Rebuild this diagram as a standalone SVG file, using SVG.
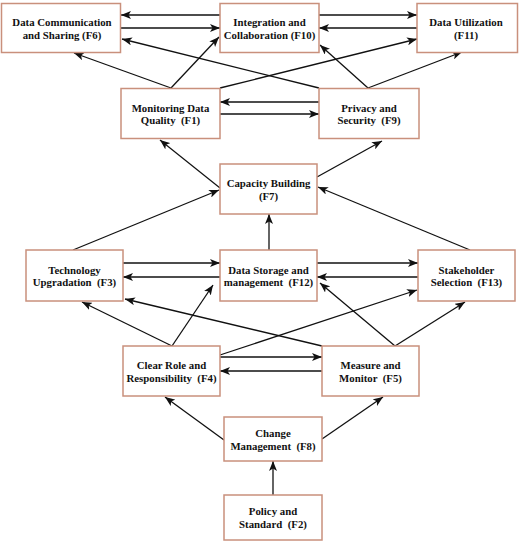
<svg xmlns="http://www.w3.org/2000/svg" width="520" height="543" viewBox="0 0 520 543">
<style>
.box{fill:#fff;stroke:#c9907c;stroke-width:1.5}
.t{font-family:"Liberation Serif","Times New Roman",serif;font-weight:bold;font-size:10.8px;fill:#111;text-anchor:middle;white-space:pre}
.c line{stroke:#111;stroke-width:1.3;marker-end:url(#ah)}
</style>
<defs>
<marker id="ah" viewBox="0 0 10 8" refX="10" refY="4" markerWidth="10" markerHeight="8" markerUnits="userSpaceOnUse" orient="auto">
<path d="M0,0 L10,4 L0,8 L2.5,4 z" fill="#111"/>
</marker>
</defs>
<rect width="520" height="543" fill="#fff"/>
<g class="c" id="connectors">
<line x1="220" y1="15" x2="121" y2="15"/>
<line x1="121" y1="28" x2="220" y2="28"/>
<line x1="319" y1="15" x2="417" y2="15"/>
<line x1="417" y1="28" x2="319" y2="28"/>
<line x1="171" y1="88" x2="74" y2="53"/>
<line x1="171" y1="88" x2="219" y2="37"/>
<line x1="220" y1="88" x2="417" y2="39"/>
<line x1="319" y1="88" x2="122" y2="39"/>
<line x1="368" y1="88" x2="320" y2="45"/>
<line x1="368" y1="88" x2="462" y2="52"/>
<line x1="319" y1="102" x2="220" y2="102"/>
<line x1="220" y1="114" x2="319" y2="114"/>
<line x1="220" y1="188" x2="160" y2="140"/>
<line x1="317" y1="177" x2="382" y2="141"/>
<line x1="73" y1="250" x2="219" y2="190"/>
<line x1="470" y1="250" x2="318" y2="187"/>
<line x1="269" y1="250" x2="269" y2="214"/>
<line x1="123" y1="263" x2="220" y2="263"/>
<line x1="220" y1="277" x2="123" y2="277"/>
<line x1="317" y1="263" x2="418" y2="263"/>
<line x1="418" y1="277" x2="317" y2="277"/>
<line x1="172" y1="346" x2="82" y2="302"/>
<line x1="172" y1="346" x2="213" y2="285"/>
<line x1="220" y1="355" x2="417" y2="290"/>
<line x1="322" y1="346" x2="125" y2="299"/>
<line x1="395" y1="346" x2="320" y2="283"/>
<line x1="395" y1="346" x2="465" y2="302"/>
<line x1="220" y1="357" x2="322" y2="357"/>
<line x1="322" y1="371" x2="220" y2="371"/>
<line x1="224" y1="440" x2="165" y2="397"/>
<line x1="322" y1="439" x2="383" y2="397"/>
<line x1="273" y1="495" x2="273" y2="461"/>
</g>
<g id="F6"><rect class="box" x="1.5" y="3.5" width="119" height="49"/><text class="t" x="62" y="26">Data Communication</text><text class="t" x="62" y="38.5">and Sharing (F6)</text></g>
<g id="F10"><rect class="box" x="220" y="3.5" width="99" height="49"/><text class="t" x="269.5" y="26">Integration and</text><text class="t" x="269.5" y="38.5">Collaboration (F10)</text></g>
<g id="F11"><rect class="box" x="417" y="3.5" width="100.5" height="49"/><text class="t" x="466" y="26">Data Utilization</text><text class="t" x="466" y="38.5">(F11)</text></g>
<g id="F1"><rect class="box" x="121" y="88.5" width="99" height="50"/><text class="t" x="170.5" y="111.5">Monitoring Data</text><text class="t" x="170.5" y="124">Quality  (F1)</text></g>
<g id="F9"><rect class="box" x="319" y="88.5" width="100" height="50"/><text class="t" x="369" y="111.5">Privacy and</text><text class="t" x="369" y="124">Security  (F9)</text></g>
<g id="F7"><rect class="box" x="220" y="164" width="97" height="50"/><text class="t" x="268.5" y="187">Capacity Building</text><text class="t" x="268.5" y="199.5">(F7)</text></g>
<g id="F3"><rect class="box" x="26" y="250" width="97" height="51"/><text class="t" x="74.5" y="273.5">Technology</text><text class="t" x="74.5" y="286">Upgradation  (F3)</text></g>
<g id="F12"><rect class="box" x="220" y="250" width="97" height="51"/><text class="t" x="268.5" y="273.5">Data Storage and</text><text class="t" x="268.5" y="286">management  (F12)</text></g>
<g id="F13"><rect class="box" x="418" y="250" width="97" height="51"/><text class="t" x="466.5" y="273.5">Stakeholder</text><text class="t" x="466.5" y="286">Selection  (F13)</text></g>
<g id="F4"><rect class="box" x="123" y="346" width="97" height="50"/><text class="t" x="171.5" y="369">Clear Role and</text><text class="t" x="171.5" y="381.5">Responsibility  (F4)</text></g>
<g id="F5"><rect class="box" x="322" y="346" width="97" height="50"/><text class="t" x="370.5" y="369">Measure and</text><text class="t" x="370.5" y="381.5">Monitor  (F5)</text></g>
<g id="F8"><rect class="box" x="224" y="417" width="98" height="44"/><text class="t" x="273" y="437">Change</text><text class="t" x="273" y="449.5">Management  (F8)</text></g>
<g id="F2"><rect class="box" x="224" y="495" width="98" height="45"/><text class="t" x="273" y="515">Policy and</text><text class="t" x="273" y="527.5">Standard  (F2)</text></g>
</svg>
